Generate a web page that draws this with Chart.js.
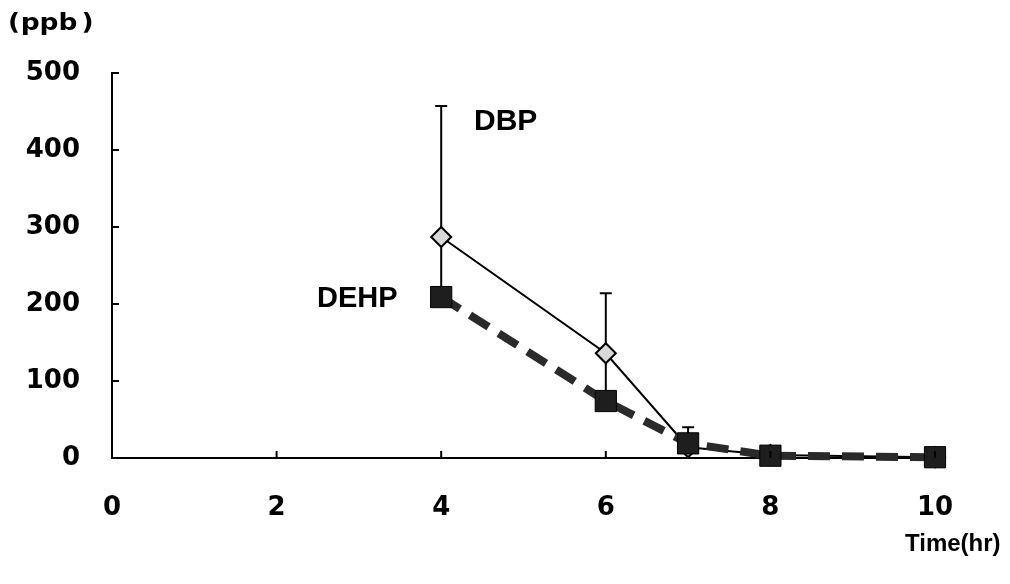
<!DOCTYPE html>
<html>
<head>
<meta charset="utf-8">
<script src="https://cdn.jsdelivr.net/npm/chart.js@4.4.0/dist/chart.umd.min.js"></script>
<style>
  html, body { margin: 0; padding: 0; background: #fff; }
  #wrap { width: 1010px; height: 584px; }
</style>
</head>
<body>
<div id="wrap"><canvas id="myChart"></canvas></div>
<script>
const times = [4, 6, 7, 8, 10];
const dbp = [287, 136, 14, 4, 1];
const dbpErr = [170, 78, 26, 0, 0];
const dehp = [209, 74, 19, 3, 1];
const dehpErr = [76, 56, 0, 0, 0];
const xTicks = [0, 2, 4, 6, 8, 10];
const yTicks = [0, 100, 200, 300, 400, 500];

const chartEl = document.getElementById('myChart');

// upward error bars, drawn under the markers
const errorBars = {
  id: 'errorBars',
  beforeDatasetsDraw(chart) {
    const ctx = chart.ctx;
    const x = chart.scales.x, y = chart.scales.y;
    ctx.save();
    ctx.strokeStyle = '#000';
    ctx.lineWidth = 2;
    chart.data.datasets.forEach(ds => {
      ds.data.forEach((p, i) => {
        const e = ds.errors[i];
        if (!e) return;
        const px = x.getPixelForValue(p.x);
        const y0 = y.getPixelForValue(p.y);
        const y1 = y.getPixelForValue(p.y + e);
        ctx.beginPath();
        ctx.moveTo(px, y0);
        ctx.lineTo(px, y1);
        ctx.moveTo(px - 6, y1);
        ctx.lineTo(px + 6, y1);
        ctx.stroke();
      });
    });
    ctx.restore();
  }
};

// inward tick marks and the free text
const extras = {
  id: 'extras',
  afterDraw(chart) {
    const ctx = chart.ctx;
    const x = chart.scales.x, y = chart.scales.y;
    const a = chart.chartArea;
    ctx.save();
    ctx.strokeStyle = '#000';
    ctx.lineWidth = 2;
    ctx.beginPath();
    yTicks.forEach(v => {
      const py = y.getPixelForValue(v);
      ctx.moveTo(a.left, py);
      ctx.lineTo(a.left + 7, py);
    });
    xTicks.forEach(v => {
      const px = x.getPixelForValue(v);
      ctx.moveTo(px, a.bottom);
      ctx.lineTo(px, a.bottom - 7);
    });
    ctx.stroke();

    ctx.fillStyle = '#000';
    ctx.textBaseline = 'alphabetic';
    ctx.textAlign = 'left';
    ctx.font = 'bold 30px "Liberation Sans", Arial, sans-serif';
    ctx.fillText('DBP', 474, 130);
    ctx.font = 'bold 29px "Liberation Sans", Arial, sans-serif';
    ctx.fillText('DEHP', 317, 307);
    ctx.font = 'bold 24px "Liberation Sans", Arial, sans-serif';
    ctx.fillText('Time(hr)', 905, 551);

    // (ppb) is wide in the original, stretch it a little
    ctx.font = 'bold 23px "DejaVu Sans", sans-serif';
    ctx.translate(8, 30);
    ctx.scale(1.15, 1);
    ctx.fillText('(', 0, 0);
    ctx.fillText('ppb', 11, 0);
    ctx.fillText(')', 64, 0);
    ctx.restore();
  }
};

new Chart(chartEl, {
  type: 'line',
  data: {
    datasets: [
      {
        label: 'DEHP',
        data: times.map((t, i) => ({ x: t, y: dehp[i] })),
        errors: dehpErr,
        borderColor: '#2a2a2a',
        borderWidth: 8,
        borderDash: [22, 12],
        pointStyle: 'rect',
        pointRadius: 15,
        pointBackgroundColor: '#1e1e1e',
        pointBorderColor: '#000',
        pointBorderWidth: 1,
        clip: false,
        tension: 0
      },
      {
        label: 'DBP',
        data: times.map((t, i) => ({ x: t, y: dbp[i] })),
        errors: dbpErr,
        borderColor: '#000',
        borderWidth: 2,
        pointStyle: 'rectRot',
        pointRadius: 10,
        pointBackgroundColor: '#d9d9d9',
        pointBorderColor: '#000',
        pointBorderWidth: 2,
        clip: false,
        tension: 0
      }
    ]
  },
  plugins: [errorBars, extras],
  options: {
    responsive: true,
    maintainAspectRatio: false,
    animation: false,
    layout: { padding: { top: 73, right: 75, left: 0, bottom: 0 } },
    plugins: {
      legend: { display: false },
      tooltip: { enabled: false }
    },
    scales: {
      x: {
        type: 'linear',
        min: 0,
        max: 10,
        afterFit(scale) { scale.height = 126; },
        afterBuildTicks(scale) { scale.ticks = xTicks.map(v => ({ value: v })); },
        grid: { display: false, drawTicks: false },
        border: { display: true, color: '#000', width: 2 },
        ticks: {
          color: '#000',
          padding: 35,
          maxRotation: 0,
          font: { family: '"DejaVu Sans", sans-serif', size: 26, weight: 'bold' }
        }
      },
      y: {
        min: 0,
        max: 500,
        afterFit(scale) { scale.width = 112; },
        afterBuildTicks(scale) { scale.ticks = yTicks.map(v => ({ value: v })); },
        grid: { display: false, drawTicks: false },
        border: { display: true, color: '#000', width: 2 },
        ticks: {
          color: '#000',
          padding: 32,
          font: { family: '"DejaVu Sans", sans-serif', size: 26, weight: 'bold' }
        }
      }
    }
  }
});
</script>
</body>
</html>
